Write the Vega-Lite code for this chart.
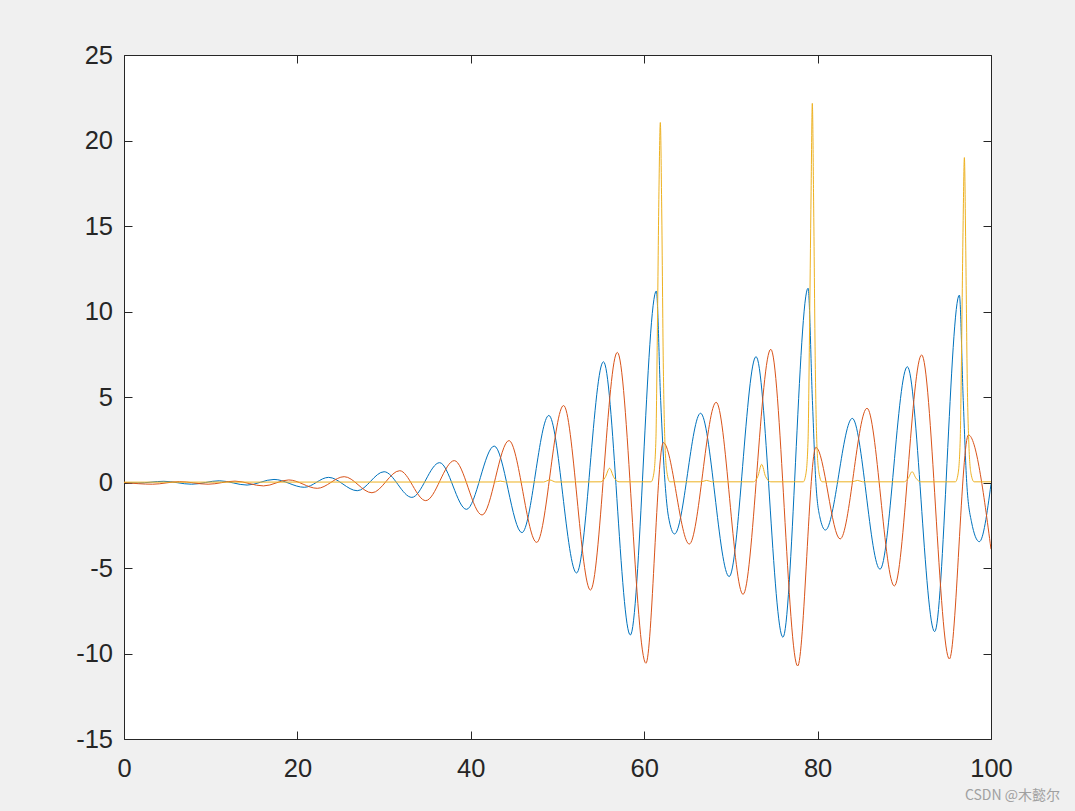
{
  "$schema": "https://vega.github.io/schema/vega-lite/v6.json",
  "width": 867,
  "height": 684,
  "autosize": {"type": "none"},
  "padding": {"left": 124, "top": 55, "right": 84, "bottom": 72},
  "background": "#f0f0f0",
  "title": {"text": "CSDN @木懿尔", "orient": "bottom", "anchor": "end", "frame": "group", "fontSize": 14, "font": "Noto Sans CJK SC", "fontWeight": "normal", "color": "#a0a0a0", "dx": 69, "offset": 7},
  "config": {
    "view": {"stroke": null, "fill": "white"},
    "axis": {"grid": false, "domainColor": "#262626", "domainWidth": 1, "tickColor": "#262626", "tickWidth": 1, "tickSize": -8, "labelFont": "Liberation Sans", "labelFontSize": 25.5, "labelColor": "#262626", "title": null, "labelFlush": false, "labelOverlap": false, "labelExpr": "toString(datum.value)"}
  },
  "data": {"values": [
    {"t":0,"v":0,"s":"x"},{"t":1.6,"v":-0.03,"s":"x"},{"t":4.6,"v":0.07,"s":"x"},{"t":7.8,"v":-0.1,"s":"x"},{"t":11.0,"v":0.1,"s":"x"},{"t":14.2,"v":-0.15,"s":"x"},{"t":17.3,"v":0.18,"s":"x"},{"t":20.8,"v":-0.28,"s":"x"},{"t":23.6,"v":0.3,"s":"x"},{"t":26.9,"v":-0.48,"s":"x"},{"t":30.0,"v":0.63,"s":"x"},{"t":33.2,"v":-0.87,"s":"x"},{"t":36.4,"v":1.16,"s":"x"},{"t":39.5,"v":-1.57,"s":"x"},{"t":42.7,"v":2.13,"s":"x"},{"t":45.9,"v":-2.93,"s":"x"},{"t":49.0,"v":3.92,"s":"x"},{"t":52.2,"v":-5.29,"s":"x"},{"t":55.3,"v":7.06,"s":"x"},{"t":58.4,"v":-8.92,"s":"x"},{"t":61.4,"v":11.2,"s":"x"},{"t":61.9,"v":4.8,"s":"x"},{"t":62.4,"v":0,"s":"x"},{"t":62.8,"v":-2.0,"s":"x"},{"t":63.5,"v":-3.01,"s":"x"},{"t":66.5,"v":4.05,"s":"x"},{"t":69.8,"v":-5.5,"s":"x"},{"t":72.9,"v":7.36,"s":"x"},{"t":76.0,"v":-9.05,"s":"x"},{"t":78.9,"v":11.36,"s":"x"},{"t":79.4,"v":4.8,"s":"x"},{"t":79.8,"v":0,"s":"x"},{"t":80.25,"v":-2.0,"s":"x"},{"t":80.9,"v":-2.78,"s":"x"},{"t":84.0,"v":3.75,"s":"x"},{"t":87.2,"v":-5.07,"s":"x"},{"t":90.35,"v":6.77,"s":"x"},{"t":93.5,"v":-8.72,"s":"x"},{"t":96.35,"v":10.96,"s":"x"},{"t":96.8,"v":4.8,"s":"x"},{"t":97.2,"v":0,"s":"x"},{"t":97.75,"v":-2.3,"s":"x"},{"t":98.65,"v":-3.46,"s":"x"},{"t":100,"v":-0.1,"s":"x"},
    {"t":0,"v":0,"s":"y"},{"t":3.3,"v":-0.1,"s":"y"},{"t":6.4,"v":0.05,"s":"y"},{"t":9.7,"v":-0.1,"s":"y"},{"t":12.8,"v":0.08,"s":"y"},{"t":16.1,"v":-0.2,"s":"y"},{"t":19.0,"v":0.15,"s":"y"},{"t":22.3,"v":-0.34,"s":"y"},{"t":25.4,"v":0.34,"s":"y"},{"t":28.6,"v":-0.6,"s":"y"},{"t":31.8,"v":0.69,"s":"y"},{"t":34.8,"v":-1.06,"s":"y"},{"t":38.1,"v":1.28,"s":"y"},{"t":41.3,"v":-1.9,"s":"y"},{"t":44.4,"v":2.45,"s":"y"},{"t":47.6,"v":-3.5,"s":"y"},{"t":50.7,"v":4.5,"s":"y"},{"t":53.8,"v":-6.29,"s":"y"},{"t":56.9,"v":7.61,"s":"y"},{"t":60.2,"v":-10.57,"s":"y"},{"t":62.2,"v":2.33,"s":"y"},{"t":65.2,"v":-3.6,"s":"y"},{"t":68.3,"v":4.69,"s":"y"},{"t":71.4,"v":-6.54,"s":"y"},{"t":74.6,"v":7.79,"s":"y"},{"t":77.7,"v":-10.73,"s":"y"},{"t":79.8,"v":2.06,"s":"y"},{"t":82.6,"v":-3.3,"s":"y"},{"t":85.7,"v":4.34,"s":"y"},{"t":88.85,"v":-6.05,"s":"y"},{"t":92.0,"v":7.46,"s":"y"},{"t":95.2,"v":-10.32,"s":"y"},{"t":97.4,"v":2.78,"s":"y"},{"t":100,"v":-3.9,"s":"y"},
    {"t":0,"v":0.02,"s":"z"},{"t":42.8,"v":0.03,"s":"z"},{"t":43.4,"v":0.08,"s":"z"},{"t":44.0,"v":0.03,"s":"z"},{"t":48.4,"v":0.03,"s":"z"},{"t":49.1,"v":0.15,"s":"z"},{"t":49.8,"v":0.03,"s":"z"},{"t":55.0,"v":0.04,"s":"z"},{"t":55.5,"v":0.3,"s":"z"},{"t":56.0,"v":0.83,"s":"z"},{"t":56.5,"v":0.3,"s":"z"},{"t":57.1,"v":0.04,"s":"z"},{"t":60.8,"v":0.04,"s":"z"},{"t":61.1,"v":0.5,"s":"z"},{"t":61.35,"v":2.5,"s":"z"},{"t":61.5,"v":8,"s":"z"},{"t":61.7,"v":17,"s":"z"},{"t":61.86,"v":21.05,"s":"z"},{"t":62.02,"v":16,"s":"z"},{"t":62.2,"v":7,"s":"z"},{"t":62.38,"v":2.5,"s":"z"},{"t":62.62,"v":0.6,"s":"z"},{"t":62.95,"v":0.04,"s":"z"},{"t":66.6,"v":0.04,"s":"z"},{"t":67.2,"v":0.12,"s":"z"},{"t":67.8,"v":0.04,"s":"z"},{"t":72.6,"v":0.04,"s":"z"},{"t":73.1,"v":0.35,"s":"z"},{"t":73.55,"v":1.06,"s":"z"},{"t":74.0,"v":0.35,"s":"z"},{"t":74.6,"v":0.04,"s":"z"},{"t":78.35,"v":0.04,"s":"z"},{"t":78.65,"v":0.5,"s":"z"},{"t":78.9,"v":2.5,"s":"z"},{"t":79.05,"v":8,"s":"z"},{"t":79.25,"v":17,"s":"z"},{"t":79.39,"v":22.17,"s":"z"},{"t":79.55,"v":16,"s":"z"},{"t":79.73,"v":7,"s":"z"},{"t":79.9,"v":2.5,"s":"z"},{"t":80.15,"v":0.6,"s":"z"},{"t":80.5,"v":0.04,"s":"z"},{"t":84.0,"v":0.04,"s":"z"},{"t":84.6,"v":0.12,"s":"z"},{"t":85.2,"v":0.04,"s":"z"},{"t":90.0,"v":0.04,"s":"z"},{"t":90.45,"v":0.25,"s":"z"},{"t":90.9,"v":0.63,"s":"z"},{"t":91.35,"v":0.25,"s":"z"},{"t":91.9,"v":0.04,"s":"z"},{"t":95.9,"v":0.04,"s":"z"},{"t":96.2,"v":0.5,"s":"z"},{"t":96.45,"v":2.5,"s":"z"},{"t":96.6,"v":7.5,"s":"z"},{"t":96.78,"v":15,"s":"z"},{"t":96.93,"v":19.0,"s":"z"},{"t":97.08,"v":14,"s":"z"},{"t":97.26,"v":6,"s":"z"},{"t":97.45,"v":2.2,"s":"z"},{"t":97.7,"v":0.5,"s":"z"},{"t":98.05,"v":0.04,"s":"z"},{"t":100,"v":0.04,"s":"z"}
  ]},
  "resolve": {"axis": {"x": "independent", "y": "independent"}},
  "layer": [
    {
      "mark": {"type": "line", "strokeWidth": 1, "interpolate": "monotone", "clip": true},
      "encoding": {
        "x": {"field": "t", "type": "quantitative", "scale": {"domain": [0, 100], "nice": false, "zero": false}, "axis": {"orient": "bottom", "values": [0, 20, 40, 60, 80, 100], "labelPadding": 25}},
        "y": {"field": "v", "type": "quantitative", "scale": {"domain": [-15, 25], "nice": false, "zero": false}, "axis": {"orient": "left", "values": [-15, -10, -5, 0, 5, 10, 15, 20, 25], "labelPadding": 19.5}},
        "color": {"field": "s", "type": "nominal", "scale": {"domain": ["x", "y", "z"], "range": ["#0072BD", "#D95319", "#EDB120"]}, "legend": null}
      }
    },
    {
      "mark": {"type": "line", "strokeOpacity": 0},
      "encoding": {
        "x": {"field": "t", "type": "quantitative", "axis": {"orient": "top", "values": [0, 20, 40, 60, 80, 100], "labels": false}},
        "y": {"field": "v", "type": "quantitative", "axis": {"orient": "right", "values": [-15, -10, -5, 0, 5, 10, 15, 20, 25], "labels": false}},
        "detail": {"field": "s"}
      }
    }
  ]
}
